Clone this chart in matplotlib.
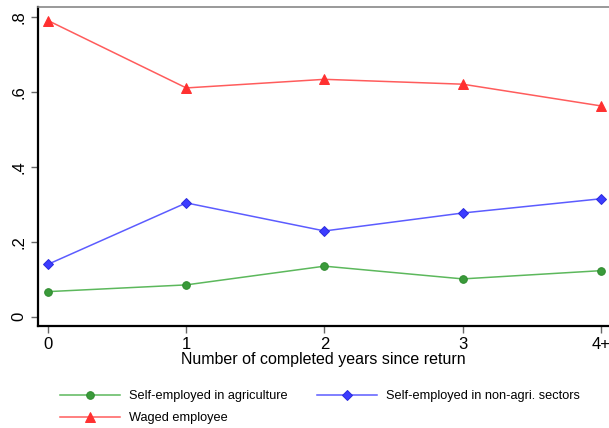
import matplotlib
matplotlib.use("Agg")
import matplotlib.pyplot as plt

plt.rcParams['font.family'] = ['Liberation Sans', 'DejaVu Sans']

x_labels = ["0", "1", "2", "3", "4+"]
x_pos = [0, 1, 2, 3, 4]
agri = [0.067, 0.085, 0.135, 0.101, 0.123]
nonagri = [0.140, 0.304, 0.229, 0.277, 0.315]
waged = [0.791, 0.611, 0.634, 0.621, 0.563]
y_ticks = [0, 0.2, 0.4, 0.6, 0.8]
y_tick_labels = ["0", ".2", ".4", ".6", ".8"]

W, H = 609, 428
fig = plt.figure(figsize=(W/100, H/100), dpi=100)
ax = fig.add_axes([37.5/W, 1 - 326/H, 1 - 37.5/W, (326 - 6.5)/H])

ax.plot(x_pos, agri, color='#5cb85c', lw=1.1, marker='o', ms=5.5,
        mfc='#3a9a3a', mec='#2e8b2e', mew=0.7, label='Self-employed in agriculture')
ax.plot(x_pos, waged, color='#ff5c5c', lw=1.1, marker='^', ms=6.5,
        mfc='#ff3030', mec='#ff3030', mew=0.7, label='Waged employee')
ax.plot(x_pos, nonagri, color='#5c5cff', lw=1.1, marker='D', ms=5.3,
        mfc='#3c3cff', mec='#2b2bdd', mew=0.7, label='Self-employed in non-agri. sectors')

ax.set_xlim(-0.076, 4.058)
ax.set_ylim(-0.0248, 0.8285)
ax.set_xticks(x_pos)
ax.set_xticklabels(x_labels, fontsize=12)
ax.set_yticks(y_ticks)
ax.set_yticklabels(y_tick_labels, fontsize=12, rotation=90, va='center')
ax.tick_params(axis='both', direction='out', length=5, width=1, color='#666666', pad=3)
ax.set_xlabel("Number of completed years since return", fontsize=11.5, labelpad=0)

for s in ['left', 'bottom']:
    ax.spines[s].set_color('black')
    ax.spines[s].set_linewidth(1.6)
ax.spines['top'].set_color('#888888')
ax.spines['top'].set_linewidth(1.2)
ax.spines['right'].set_visible(False)

handles, labels = ax.get_legend_handles_labels()
fig.legend(handles, labels, ncol=2, loc='upper left',
           bbox_to_anchor=(60/W, 1 - 390/H), frameon=False, fontsize=9.2,
           handlelength=4.7, handletextpad=0.7, columnspacing=2.3,
           labelspacing=0.8, borderaxespad=0, borderpad=0)

fig.savefig("out.png", dpi=100)
